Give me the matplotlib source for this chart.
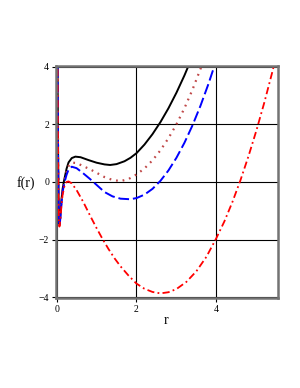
import matplotlib
matplotlib.use('Agg')
from matplotlib import pyplot as plt

# black solid curve
r_black = [0.02, 0.03, 0.04, 0.05, 0.06, 0.07, 0.08, 0.1, 0.12, 0.15, 0.18, 0.25, 0.3, 0.38, 0.47,
           0.6, 0.8, 1.0, 1.2, 1.34, 1.5, 1.7, 1.85, 2.0, 2.2, 2.4, 2.6, 2.8, 3.0, 3.2, 3.4]
f_black = [5.0, 2.6, 0.62, -0.68, -1.27, -1.47, -1.42, -1.05, -0.65, -0.25, 0.0, 0.46, 0.68, 0.83, 0.88,
           0.86, 0.76, 0.67, 0.61, 0.59, 0.62, 0.72, 0.84, 1.0, 1.3, 1.66, 2.08, 2.56, 3.1, 3.7, 4.36]

# dotted curve
r_dot = [0.02, 0.03, 0.04, 0.05, 0.06, 0.07, 0.08, 0.1, 0.12, 0.15, 0.2, 0.25, 0.3, 0.38, 0.5,
         0.65, 0.84, 1.0, 1.2, 1.4, 1.6, 1.8, 2.0, 2.2, 2.4, 2.6, 2.8, 3.0, 3.2, 3.4, 3.6, 3.8]
f_dot = [5.0, 2.6, 0.6, -0.7, -1.3, -1.5, -1.45, -1.1, -0.72, -0.3, 0.08, 0.36, 0.55, 0.67, 0.66,
         0.56, 0.44, 0.32, 0.17, 0.07, 0.03, 0.1, 0.26, 0.47, 0.75, 1.1, 1.52, 2.0, 2.56, 3.2, 3.92, 4.7]

# blue dashed curve
r_blue = [0.02, 0.03, 0.04, 0.05, 0.06, 0.07, 0.08, 0.1, 0.12, 0.15, 0.2, 0.25, 0.3, 0.38, 0.5,
          0.65, 0.84, 1.0, 1.2, 1.4, 1.6, 1.84, 2.0, 2.2, 2.4, 2.6, 2.8, 3.0, 3.2, 3.4, 3.6, 3.8, 4.0]
f_blue = [5.0, 2.6, 0.6, -0.72, -1.33, -1.52, -1.48, -1.15, -0.78, -0.35, 0.0, 0.25, 0.43, 0.53, 0.48,
          0.32, 0.1, -0.1, -0.35, -0.5, -0.58, -0.6, -0.56, -0.44, -0.24, 0.04, 0.4, 0.84, 1.36, 1.96, 2.64, 3.4, 4.24]

# red dash-dot curve
r_red = [0.02, 0.03, 0.04, 0.05, 0.06, 0.07, 0.08, 0.1, 0.12, 0.15, 0.2, 0.25, 0.3, 0.38, 0.5,
         0.67, 0.85, 1.0, 1.15, 1.3, 1.45, 1.6, 1.8, 2.0, 2.2, 2.4, 2.6, 2.8, 3.0, 3.25, 3.5, 3.75,
         4.0, 4.2, 4.4, 4.6, 4.8, 5.0, 5.2, 5.4, 5.6]
f_red = [5.0, 2.6, 0.55, -0.75, -1.35, -1.55, -1.5, -1.2, -0.85, -0.45, -0.12, 0.0, 0.02, -0.05, -0.28,
         -0.7, -1.2, -1.6, -1.98, -2.33, -2.65, -2.93, -3.25, -3.53, -3.71, -3.82, -3.87, -3.83, -3.72, -3.47, -3.1, -2.6,
         -1.95, -1.37, -0.7, 0.05, 0.88, 1.78, 2.76, 3.82, 4.96]

xticks = [0, 2, 4]
yticks = [-4, -2, 0, 2, 4]

fig = plt.figure(figsize=(3, 3.88), dpi=100)
ax = fig.add_axes([0.187, 0.232, 0.738, 0.598])

ax.plot(r_black, f_black, color='black', lw=1.4, solid_capstyle='butt')
ax.plot(r_dot, f_dot, color='#c04848', lw=1.6, linestyle=(0, (0.8, 2.2)))
ax.plot(r_blue, f_blue, color='#0000ff', lw=1.4, linestyle=(0, (5.5, 2.0)))
ax.plot(r_red, f_red, color='#ff0000', lw=1.3, linestyle=(0, (4.0, 1.8, 1.0, 1.8)))

ax.set_xlim(-0.012, 5.53)
ax.set_ylim(-4.03, 4.03)
ax.set_xticks(xticks)
ax.set_yticks(yticks)
ax.set_xticklabels([str(t) for t in xticks], family='Liberation Serif', fontsize=7)
ax.set_yticklabels([str(t).replace('-', '\u2212') for t in yticks], family='Liberation Serif', fontsize=7)
ax.tick_params(length=3, width=0.8, pad=2)
ax.grid(True, color='black', lw=0.8)
ax.set_axisbelow(True)
for s in ax.spines.values():
    s.set_color('0.45')
    s.set_linewidth(1.8)

fig.text(166 / 300, 1 - 320 / 388, 'r', family='Liberation Serif', fontsize=10, ha='center', va='center')
fig.text(26 / 300, 1 - 183 / 388, 'f(r)', family='Liberation Serif', fontsize=10, ha='center', va='center')

plt.savefig('out.png', dpi=100)
